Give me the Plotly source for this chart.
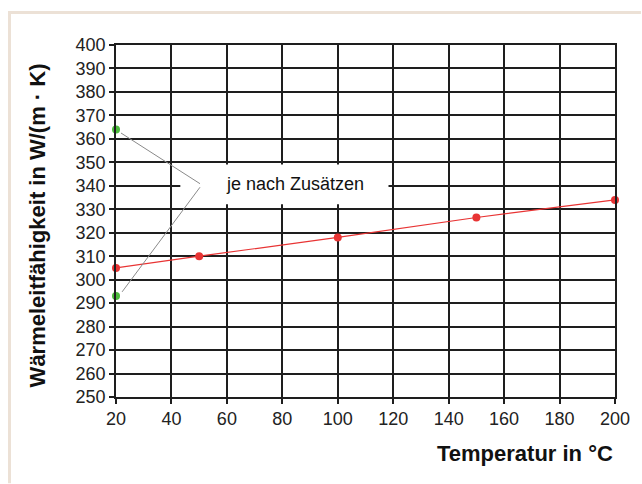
import plotly.graph_objects as go

# data
temps = [20, 50, 100, 150, 200]
conductivity = [305, 310, 318, 326.5, 334]
additive_temps = [20, 20]
additive_values = [364, 293]
note_text = "je nach Zusätzen"
x_title = "Temperatur in °C"
y_title = "Wärmeleitfähigkeit in W/(m · K)"
x_ticks = list(range(20, 201, 20))
y_ticks = list(range(250, 401, 10))

FONT = "Liberation Sans, Arial, sans-serif"

fig = go.Figure()
fig.add_trace(go.Scatter(
    x=temps, y=conductivity, mode="lines+markers",
    line=dict(color="#e83434", width=1.2),
    marker=dict(color="#e83434", size=8),
    cliponaxis=False, showlegend=False, hoverinfo="x+y"))
fig.add_trace(go.Scatter(
    x=additive_temps, y=additive_values, mode="markers",
    marker=dict(color="#4cbb3c", size=8),
    cliponaxis=False, showlegend=False, hoverinfo="x+y"))

# white note box (above grid, below traces)
box = dict(x0=43.2, x1=118.3, y0=332.1, y1=349.1)
fig.add_shape(type="rect", xref="x", yref="y", fillcolor="white",
              line=dict(width=0), layer="between", **box)

# leader lines from the green points to the note
vertex = (50.3, 340.6)
starts = [(21.8, 362.5), (22.2, 294.8)]
for i, (sx, sy) in enumerate(starts):
    vy = vertex[1] + (0.3 if i == 0 else -1.2)
    fig.add_shape(type="line", x0=sx, y0=sy, x1=vertex[0], y1=vy,
                  xref="x", yref="y", line=dict(color="#8a8a8a", width=1),
                  layer="above")

# note text
fig.add_annotation(x=84.5, y=340.6, xref="x", yref="y", text=note_text,
                   showarrow=False, xanchor="center", yanchor="middle",
                   font=dict(family=FONT, size=18, color="#111"))

# axis titles
fig.add_annotation(x=1.0, y=-0.16, xref="paper", yref="paper", text=f"<b>{x_title}</b>",
                   showarrow=False, xanchor="right", yanchor="middle",
                   font=dict(family=FONT, size=22, color="#111"))
fig.add_annotation(x=-0.158, y=0.488, xref="paper", yref="paper", text=f"<b>{y_title}</b>",
                   showarrow=False, textangle=-90, xanchor="center", yanchor="middle",
                   font=dict(family=FONT, size=22, color="#111"))

# beige frame lines
frame_color = "#ece1d6"
fig.add_shape(type="line", xref="paper", yref="paper", x0=-0.2134, x1=1.052,
              y0=1.0923, y1=1.0923, line=dict(color=frame_color, width=3))
fig.add_shape(type="line", xref="paper", yref="paper", x0=-0.2134, x1=-0.2134,
              y0=1.0966, y1=-0.245, line=dict(color=frame_color, width=3))

axis_common = dict(showgrid=True, gridcolor="#1e1e1e", gridwidth=1.6,
                   showline=True, linecolor="#1e1e1e", linewidth=1.6, mirror=True,
                   ticks="outside", ticklen=5, tickcolor="#1e1e1e", tickwidth=1.6,
                   zeroline=False,
                   tickfont=dict(family=FONT, size=18, color="#222"))

fig.update_xaxes(range=[20, 200], tickvals=x_ticks, ticklabelstandoff=0, **axis_common)
fig.update_yaxes(range=[250, 400], tickvals=y_ticks, ticklabelstandoff=0, **axis_common)

fig.update_layout(
    width=642, height=484,
    margin=dict(l=116, r=27, t=45, b=87),
    paper_bgcolor="white", plot_bgcolor="white",
    showlegend=False,
)

fig.write_html("out.html", config={"displayModeBar": False})
